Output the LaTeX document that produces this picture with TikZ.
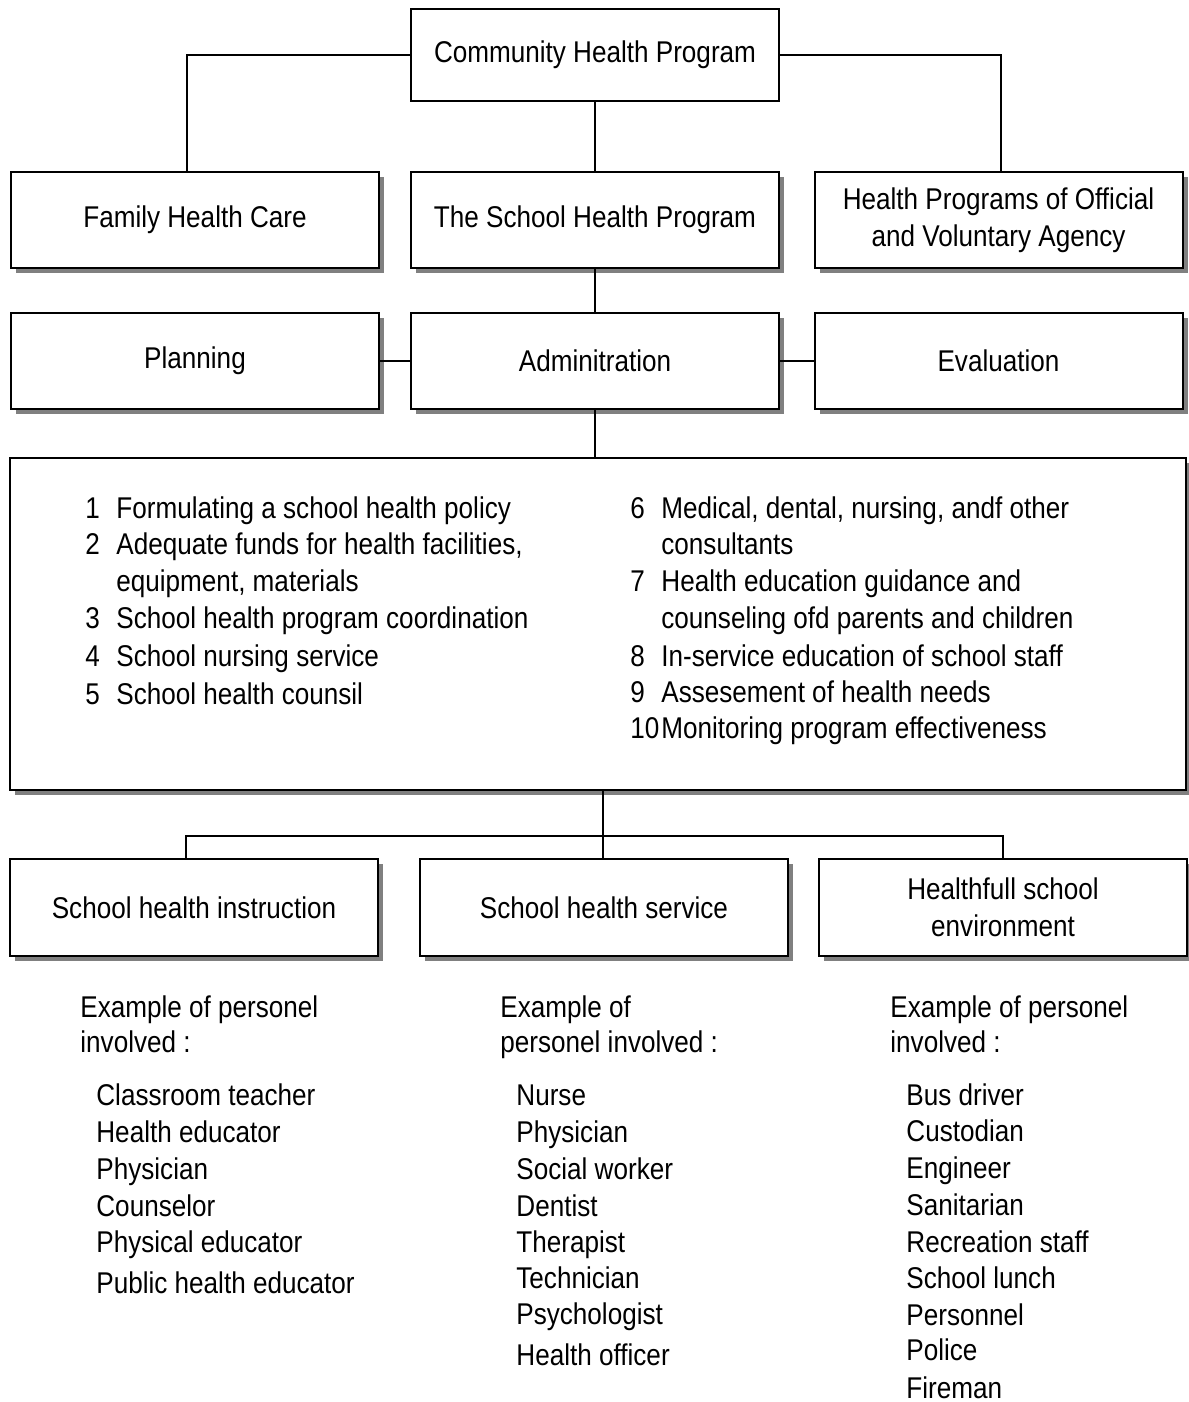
\documentclass[tikz,border=0pt]{standalone}
\usepackage{fontspec}
\setmainfont[FakeStretch=0.87]{Liberation Sans}
\usepackage{tikz}
\usetikzlibrary{calc,shadows}
\newcommand{\fsz}{\fontsize{15}{18.5}\selectfont}
\newcommand{\hsz}{\fontsize{15}{17.5}\selectfont}
\tikzset{
  box/.style={draw,line width=1pt,fill=white,minimum width=184pt,minimum height=48pt,align=center,inner sep=2pt},
  sbox/.style={box,drop shadow={shadow xshift=2.5pt,shadow yshift=-2.5pt,fill=black!50,opacity=1}},
  txt/.style={anchor=base west,inner sep=0pt},
  head/.style={anchor=base west,inner sep=0pt,align=left,font=\hsz},
  link/.style={line width=1pt}
}

\begin{document}
\begin{tikzpicture}[x=0.5pt,y=-0.5pt,font=\fsz]
    \useasboundingbox (0,0) rectangle (1188,1402);

    % top rows
    \node[box,minimum height=46pt] (comm) at (595,55) {Community Health Program};
    \node[sbox] (fam) at (195,220) {Family Health Care};
    \node[sbox] (shp) at (595,220) {The School Health Program};
    \node[sbox] (hpo) at (998.5,220) {Health Programs of Official\\and Voluntary Agency};
    \node[sbox] (plan) at (195,361) {Planning};
    \node[sbox] (adm) at (595,361) {Adminitration};
    \node[sbox] (eval) at (998.5,361) {Evaluation};

    % list of tasks
    \node[sbox,minimum width=588pt,minimum height=166pt] (lst) at (598,624) {};
    \foreach \n/\y in {1/518,2/554,3/628,4/666,5/704}
      \node[txt] (lnum\n) at (85,\y) {\n};
    \foreach \t/\y [count=\i] in {Formulating a school health policy/518,
        {Adequate funds for health facilities,}/554, {equipment, materials}/591,
        School health program coordination/628, School nursing service/666,
        School health counsil/704}
      \node[txt] (ltxt\i) at (116,\y) {\t};
    \foreach \n/\y in {6/518,7/591,8/666,9/702,10/738}
      \node[txt] (rnum\n) at (630,\y) {\n};
    \foreach \t/\y [count=\i] in {{Medical, dental, nursing, andf other}/518,
        consultants/554, Health education guidance and/591,
        counseling ofd parents and children/628, In-service education of school staff/666,
        Assesement of health needs/702, Monitoring program effectiveness/738}
      \node[txt] (rtxt\i) at (661,\y) {\t};

    % bottom row
    \node[sbox,minimum height=48.5pt] (instr) at (194,907.5) {School health instruction};
    \node[sbox,minimum height=48.5pt] (serv) at (604,907.5) {School health service};
    \node[sbox,minimum height=48.5pt] (env) at (1003,907.5) {Healthfull school\\environment};

    % personel
    \node[head] (hins) at (80,1052) {Example of personel\\involved :};
    \node[head] (hser) at (500,1052) {Example of\\personel involved :};
    \node[head] (henv) at (890,1052) {Example of personel\\involved :};
    \foreach \t/\y [count=\i] in {Classroom teacher/1105, Health educator/1142,
        Physician/1179, Counselor/1216, Physical educator/1252, Public health educator/1293}
      \node[txt] (pins\i) at (96,\y) {\t};
    \foreach \t/\y [count=\i] in {Nurse/1105, Physician/1142, Social worker/1179,
        Dentist/1216, Therapist/1252, Technician/1288, Psychologist/1324, Health officer/1365}
      \node[txt] (pser\i) at (516,\y) {\t};
    \foreach \t/\y [count=\i] in {Bus driver/1105, Custodian/1141, Engineer/1178,
        Sanitarian/1215, Recreation staff/1252, School lunch/1288, Personnel/1325,
        Police/1360, Fireman/1398}
      \node[txt] (penv\i) at (906,\y) {\t};

    % connectors
    \draw[link] (comm.west) -| ([xshift=-4pt]fam.north);
    \draw[link] (comm.east) -| ([xshift=1.25pt]hpo.north);
    \draw[link] (comm.south) -- (shp.north);
    \draw[link] (shp.south) -- (adm.north);
    \draw[link] (plan.east) -- (adm.west);
    \draw[link] (adm.east) -- (eval.west);
    \draw[link] (adm.south) -- (adm.south |- lst.north);
    \coordinate (bus) at (603,836);
    \draw[link] (bus |- lst.south) -- (bus |- serv.north);
    \draw[link] ([xshift=-4pt]instr.north) |- (bus) -| (env.north);
\end{tikzpicture}
\end{document}
